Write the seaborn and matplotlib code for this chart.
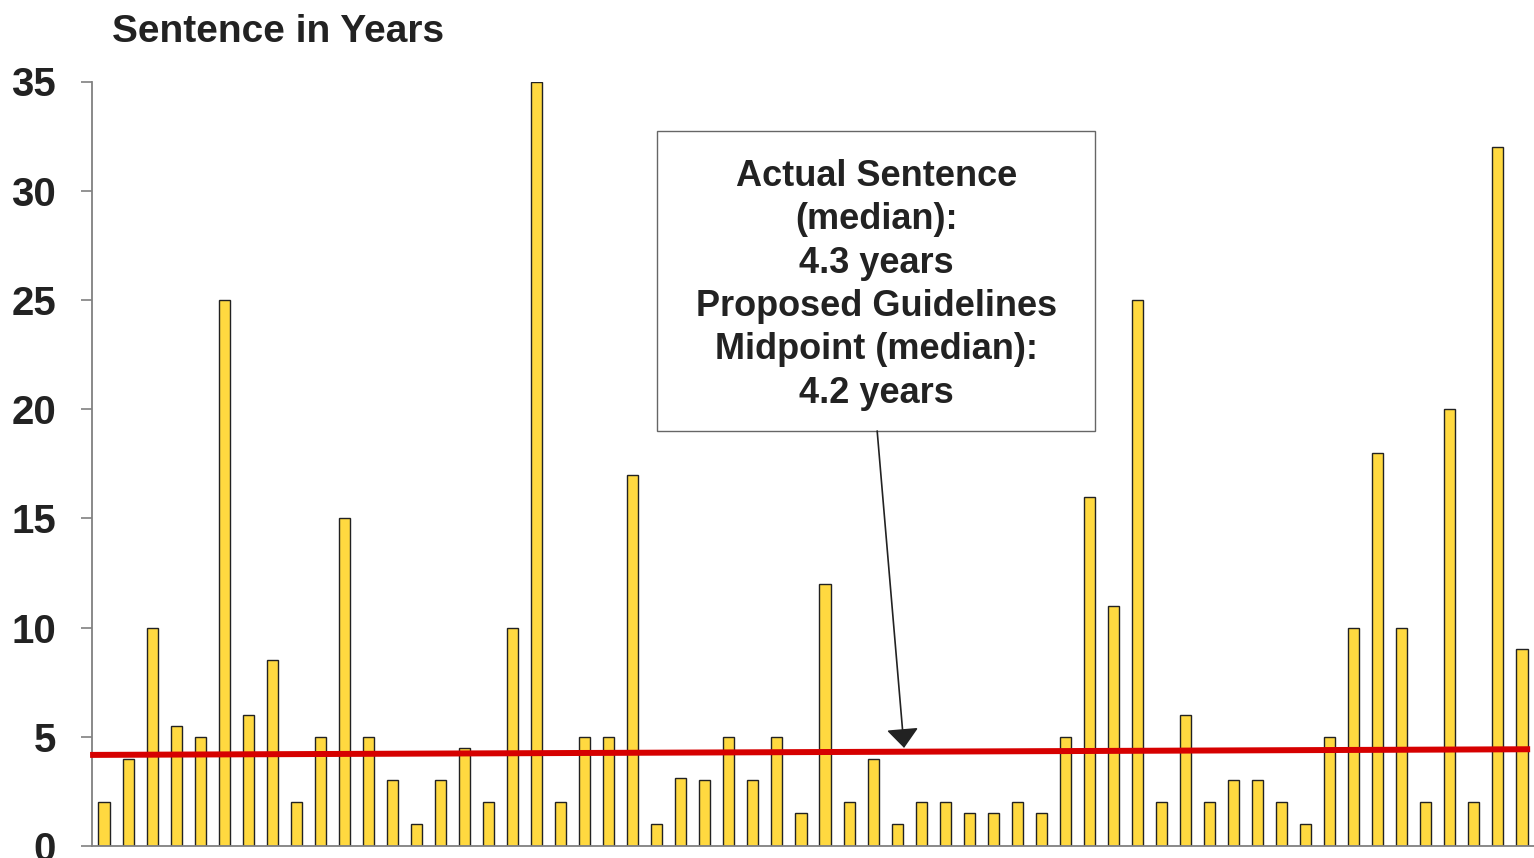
import matplotlib
matplotlib.use("Agg")
import matplotlib.pyplot as plt
import seaborn as sns
import numpy as np
import pandas as pd
from matplotlib.patches import Rectangle

# ---- data ----
sentences = [2, 4, 10, 5.5, 5, 25, 6, 8.5, 2, 5,
             15, 5, 3, 1, 3, 4.5, 2, 10, 35, 2,
             5, 5, 17, 1, 3.1, 3, 5, 3, 5, 1.5,
             12, 2, 4, 1, 2, 2, 1.5, 1.5, 2, 1.5,
             5, 16, 11, 25, 2, 6, 2, 3, 3, 2,
             1, 5, 10, 18, 10, 2, 20, 2, 32, 9]
case_ids = list(range(1, len(sentences) + 1))
median_line = [4.17, 4.43]   # red reference line, left and right ends
y_ticks = [0, 5, 10, 15, 20, 25, 30, 35]
title = "Sentence in Years"
box_text = ("Actual Sentence\n(median):\n4.3 years\nProposed Guidelines\n"
            "Midpoint (median):\n4.2 years")

df = pd.DataFrame({"case": case_ids, "years": sentences})

sns.set_style("white")
plt.rcParams['font.family'] = ['Liberation Sans', 'DejaVu Sans']

fig = plt.figure(figsize=(15.34, 8.58), dpi=100)
ax = fig.add_axes([92/1534, 12/858, 1442/1534, (846-81.5)/858])

sns.barplot(data=df, x="case", y="years", color="#FFD940", saturation=1,
            width=0.46, edgecolor="#222222", linewidth=1.0, ax=ax)

n = len(sentences)
ax.set_xlim(-0.5, n - 0.5)
ax.set_ylim(0, 35)
ax.set_yticks(y_ticks)
ax.set_yticklabels([str(t) for t in y_ticks], fontsize=29, fontweight='bold',
                   color='#222222')
ax.set_xticks([])
ax.set_xlabel("")
ax.set_ylabel("")
ax.tick_params(axis='y', direction='out', length=8, width=1.2,
               color='#808080', pad=18, left=True)
for side in ['top', 'right']:
    ax.spines[side].set_visible(False)
for side in ['left', 'bottom']:
    ax.spines[side].set_color('#808080')
    ax.spines[side].set_linewidth(1.3)

# red median line
ax.plot([-0.58, n - 0.66], median_line, color='#D60000', lw=4.3,
        solid_capstyle='butt', clip_on=False, zorder=5)

# annotation box
box = Rectangle((23.0, 19.0), 18.24, 13.74, facecolor='white',
                edgecolor='#666666', lw=1.0, zorder=6)
ax.add_patch(box)
ax.text(32.13, 25.69, box_text, ha='center', va='center',
        multialignment='center', fontsize=26, fontweight='bold',
        color='#222222', linespacing=1.31, zorder=7)
ax.annotate("", xy=(33.29, 4.49), xytext=(32.17, 19.0),
            arrowprops=dict(arrowstyle='-|>,head_length=0.6,head_width=0.5',
                            mutation_scale=20, color='#222222', lw=1.2,
                            shrinkA=0, shrinkB=0), zorder=8)

fig.text(112/1534, 1 - 41.5/858, title, ha='left', va='baseline',
         fontsize=28, fontweight='bold', color='#222222')

fig.savefig("out.png", dpi=100)
